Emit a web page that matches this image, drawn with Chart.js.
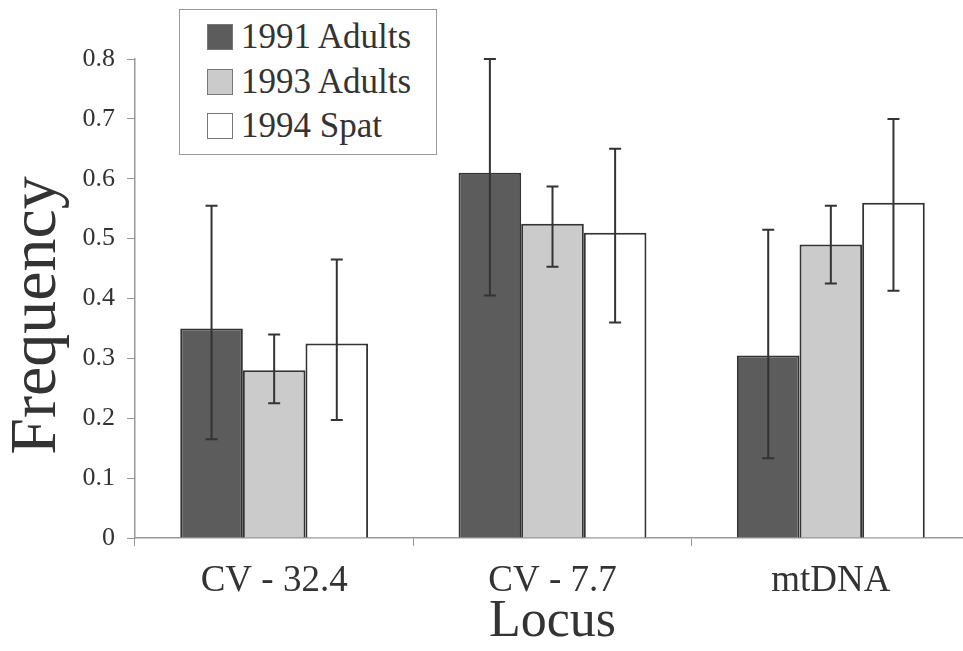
<!DOCTYPE html>
<html>
<head>
<meta charset="utf-8">
<script src="https://cdn.jsdelivr.net/npm/chart.js@4/dist/chart.umd.min.js"></script>
<style>
    html, body { margin: 0; padding: 0; background: #fff; overflow: hidden; }
    #wrap { position: relative; width: 975px; height: 651px; }
    #legend {
        position: absolute; left: 179px; top: 9px; width: 258px; height: 146px;
        border: 1.5px solid #999; box-sizing: border-box; background: #fff;
        font-family: 'Liberation Serif', 'Times New Roman', serif; font-size: 35px; color: #333;
        padding: 5px 0 0 27px;
    }
    #legend div { height: 44.5px; line-height: 44.5px; display: flex; align-items: center; }
    #legend span.sw { width: 26px; height: 26px; border: 1.5px solid #777; margin-right: 8px; box-sizing: border-box; }
</style>
</head>
<body>
<div id="wrap">
    <canvas id="freqChart"></canvas>
    <div id="legend"></div>
</div>
<script>
// categories and series
const loci = ['CV - 32.4', 'CV - 7.7', 'mtDNA'];
const seriesNames = ['1991 Adults', '1993 Adults', '1994 Spat'];
const adults1991 = [0.35, 0.61, 0.305];
const adults1993 = [0.28, 0.525, 0.49];
const spat1994 = [0.325, 0.51, 0.56];

// error bar ends (low / high)
const low1991 = [0.165, 0.405, 0.133];
const high1991 = [0.555, 0.80, 0.515];
const low1993 = [0.225, 0.453, 0.425];
const high1993 = [0.34, 0.587, 0.555];
const low1994 = [0.197, 0.36, 0.413];
const high1994 = [0.465, 0.65, 0.70];

const fillColors = ['#5c5c5c', '#cbcbcb', '#ffffff'];
const serif = "'Liberation Serif', 'Times New Roman', serif";

const errLow = [low1991, low1993, low1994];
const errHigh = [high1991, high1993, high1994];

// simple error bar drawing on top of the bars
const errorBars = {
    id: 'errorBars',
    afterDatasetsDraw(chart) {
        const ctx = chart.ctx;
        const yScale = chart.scales.y;
        ctx.save();
        ctx.strokeStyle = '#333';
        ctx.lineWidth = 2;
        chart.data.datasets.forEach((ds, i) => {
            const meta = chart.getDatasetMeta(i);
            meta.data.forEach((bar, j) => {
                const x = bar.x;
                const yLo = yScale.getPixelForValue(errLow[i][j]);
                const yHi = yScale.getPixelForValue(errHigh[i][j]);
                ctx.beginPath();
                ctx.moveTo(x, yLo);
                ctx.lineTo(x, yHi);
                ctx.moveTo(x - 6, yHi);
                ctx.lineTo(x + 6, yHi);
                ctx.moveTo(x - 6, yLo);
                ctx.lineTo(x + 6, yLo);
                ctx.stroke();
            });
        });
        ctx.restore();
    }
};

// y title sits a little below the middle of the axis in the original
const yTitle = {
    id: 'yTitle',
    afterDraw(chart) {
        const ctx = chart.ctx;
        const area = chart.chartArea;
        ctx.save();
        ctx.translate(38, (area.top + area.bottom) / 2 + 17);
        ctx.rotate(-Math.PI / 2);
        ctx.font = '66px ' + serif;
        ctx.fillStyle = '#333';
        ctx.textAlign = 'center';
        ctx.textBaseline = 'middle';
        ctx.fillText('Frequency', 0, 0);
        ctx.restore();
    }
};

const data = {
    labels: loci,
    datasets: [adults1991, adults1993, spat1994].map((vals, i) => ({
        label: seriesNames[i],
        data: vals,
        backgroundColor: fillColors[i],
        borderColor: '#333',
        borderWidth: 2,
        barPercentage: 1,
        categoryPercentage: 0.675
    }))
};

const config = {
    type: 'bar',
    data: data,
    options: {
        responsive: true,
        maintainAspectRatio: false,
        animation: false,
        layout: { padding: { top: 59, right: 5, bottom: 0, left: 0 } },
        plugins: {
            legend: { display: false },
            tooltip: { enabled: false }
        },
        scales: {
            x: {
                grid: { offset: true, drawOnChartArea: false, tickLength: 8, color: '#999' },
                border: { color: '#999', width: 1.5 },
                ticks: { font: { family: serif, size: 37 }, color: '#333', padding: 13 },
                title: { display: true, text: 'Locus', font: { family: serif, size: 52 }, color: '#333', padding: { top: 0, bottom: -3 } },
                afterFit(scale) { scale.height = 113; }
            },
            y: {
                min: 0,
                max: 0.8,
                grid: { drawOnChartArea: false, tickLength: 8, color: '#999' },
                border: { color: '#999', width: 1.5 },
                ticks: {
                    stepSize: 0.1,
                    font: { family: serif, size: 26 },
                    color: '#333',
                    padding: 12,
                    callback: v => String(Math.round(v * 10) / 10)
                },
                afterFit(scale) { scale.width = 135; }
            }
        }
    },
    plugins: [errorBars, yTitle]
};

new Chart(document.getElementById('freqChart').getContext('2d'), config);

// legend box
const legend = document.getElementById('legend');
seriesNames.forEach((name, i) => {
    const row = document.createElement('div');
    const sw = document.createElement('span');
    sw.className = 'sw';
    sw.style.background = fillColors[i];
    row.appendChild(sw);
    row.appendChild(document.createTextNode(name));
    legend.appendChild(row);
});
</script>
</body>
</html>
